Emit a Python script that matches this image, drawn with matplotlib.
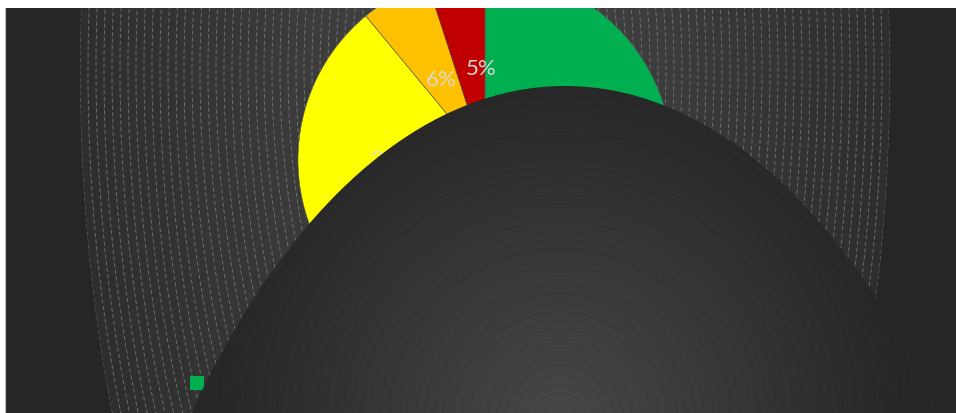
import numpy as np
import matplotlib
matplotlib.use("Agg")
from matplotlib import pyplot as plt
from matplotlib.patches import Ellipse, Rectangle, Circle
from matplotlib.lines import Line2D

# pie data
labels = ["Complete", "In progress", "At risk", "Overdue"]
values = [61, 28, 6, 5]
colors = ["#00b050", "#ffff00", "#ffc000", "#c00000"]

W, H = 956, 413
plt.rcParams['font.family'] = ['Lato', 'DejaVu Sans']

fig = plt.figure(figsize=(W / 100, H / 100), dpi=100, facecolor="white")
ax = fig.add_axes([0, 0, 1, 1])
ax.set_xlim(0, W)
ax.set_ylim(0, H)
ax.axis("off")

# chart area
ax.add_patch(Rectangle((6, 0), W - 6, H - 8, facecolor="#262626", edgecolor="none", zorder=0))

xx, yy = np.meshgrid(np.arange(W) + 0.5, np.arange(H) + 0.5)


def gray_img(v):
    v = np.clip(v, 0, 1)
    return np.dstack([v, v, v])


# radial background behind the pie
bcx, bcy, ba, bb = 485, 343, 405, 880
rn = np.sqrt(((xx - bcx) / ba) ** 2 + ((yy - bcy) / bb) ** 2)
bg = (0x47 + (0x2e - 0x47) * np.clip(rn, 0, 1)) / 255
im = ax.imshow(gray_img(bg), extent=(0, W, 0, H), origin="lower", zorder=1, interpolation="bilinear")
bg_clip = Ellipse((bcx, bcy), 2 * ba, 2 * bb, facecolor="none", edgecolor="none")
ax.add_patch(bg_clip)
im.set_clip_path(bg_clip)
for k in range(0, 50):
    a = ba - 8 * k
    if a <= 0:
        break
    e = Ellipse((bcx, bcy), 2 * a, 2 * bb * a / ba, fill=False, edgecolor="#8c8c8c",
                lw=0.6, ls=(0, (5, 3)), alpha=0.75, zorder=1.5)
    ax.add_patch(e)
    e.set_clip_path(bg_clip)

# pie
wedges, texts, autotexts = ax.pie(values, colors=colors, startangle=90, counterclock=False,
                                  center=(485, 253), radius=187, autopct="%d%%", pctdistance=0.49,
                                  wedgeprops=dict(edgecolor="#595959", lw=0.4),
                                  textprops=dict(color="#d9d9d9", fontsize=16))
for w in wedges:
    w.set_zorder(2)
for t in autotexts:
    t.set_zorder(2.5)
# small slice label sits a bit to the right
px, py = autotexts[3].get_position()
autotexts[3].set_position((px + 11, py))
ax.set_xlim(0, W)
ax.set_ylim(0, H)
ax.set_aspect("auto")

# legend along the bottom
handles = [Line2D([], [], marker="s", ls="", color=c, markersize=10, markeredgewidth=0)
           for c in colors]
leg = ax.legend(handles, labels, loc="lower left", bbox_to_anchor=(189 / W, 22 / H), ncol=4,
                frameon=False, fontsize=11, handlelength=1.0, handletextpad=0.4,
                borderpad=0, borderaxespad=0, labelcolor="#d9d9d9", columnspacing=1.5)
leg.set_zorder(3)

# dark plot area shape on top
dcx, dcy, dw, dh = 565, -673, 1010, 2000
gx, gy = 560, -7
rd = np.sqrt((xx - gx) ** 2 + (yy - gy) ** 2) / 345
fg = (0x48 + (0x27 - 0x48) * np.clip(rd, 0, 1)) / 255
im2 = ax.imshow(gray_img(fg), extent=(0, W, 0, H), origin="lower", zorder=5, interpolation="bilinear")
fg_clip = Ellipse((dcx, dcy), dw, dh, facecolor="none", edgecolor="none")
ax.add_patch(fg_clip)
im2.set_clip_path(fg_clip)
for k in range(1, 70):
    c = Circle((gx, gy), 9 * k, fill=False, edgecolor="#1a1a1a", lw=0.7, alpha=0.14, zorder=5.5)
    ax.add_patch(c)
    c.set_clip_path(fg_clip)

# white page margin at top and left
ax.add_patch(Rectangle((0, H - 8), W, 8, facecolor="white", edgecolor="none", zorder=10))
ax.add_patch(Rectangle((0, 0), 5, H, facecolor="white", edgecolor="none", zorder=10))
ax.plot([5.5, 5.5], [0, H - 8], color="#bfbfbf", lw=0.8, zorder=10)

fig.savefig("out.png", dpi=100, facecolor="white")
